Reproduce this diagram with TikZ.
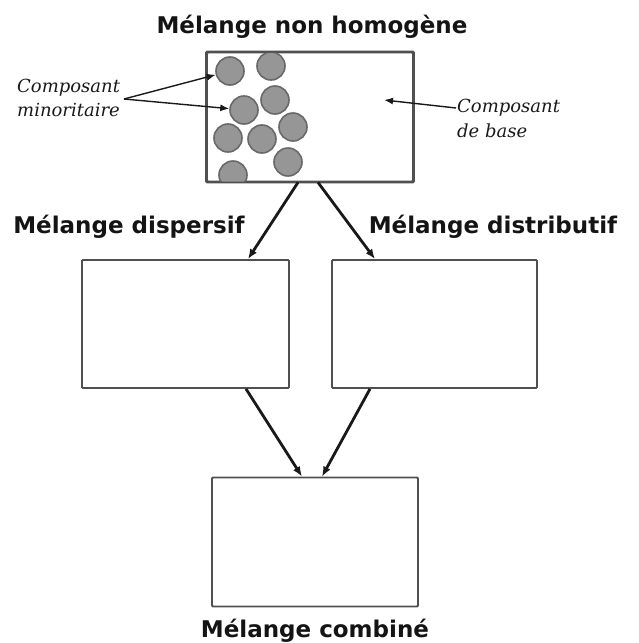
\documentclass[tikz,border=0pt]{standalone}
\usepackage{fontspec}
\newfontfamily\hdrfont{DejaVu Sans}
\newfontfamily\labfont{DejaVu Serif}
\usetikzlibrary{arrows.meta}
\definecolor{boxline}{RGB}{80,80,80}
\definecolor{ballfill}{RGB}{150,150,150}
\definecolor{ballline}{RGB}{105,105,105}
\definecolor{arrowc}{RGB}{25,25,25}
\tikzset{
  mixbox/.style={draw=boxline, line width=1.8pt, rounded corners=1pt, fill=white, minimum width=206pt, minimum height=129pt, inner sep=0pt},
  ball/.style={circle, draw=ballline, line width=1.6pt, fill=ballfill, minimum size=28pt, inner sep=0pt},
  hdr/.style={font=\hdrfont\bfseries\fontsize{23}{28}\selectfont, inner sep=0pt, anchor=base, text=black!92},
  lab/.style={font=\labfont\itshape\fontsize{18}{25}\selectfont, inner sep=0pt, anchor=base west, text=black!90},
  flow/.style={draw=arrowc, line width=2.8pt, -{Latex[length=10pt,width=8pt]}},
  point/.style={draw=arrowc, line width=1.4pt, -{Latex[length=9pt,width=7pt]}}
}
\begin{document}
\begin{tikzpicture}[x=1pt,y=-1pt]
\useasboundingbox (0,0) rectangle (639,643);
% titles
\node[hdr] (t0) at (312,33) {Mélange non homogène};
\node[hdr] (t1) at (129,233) {Mélange dispersif};
\node[hdr] (t2) at (493,233) {Mélange distributif};
\node[hdr] (t3) at (315,637) {Mélange combiné};
% boxes
\node[mixbox] (top) at (310,117) {};
\node[mixbox, minimum width=207pt, minimum height=128pt] (L) at (185.5,324) {};
\node[mixbox, minimum width=205pt, minimum height=128pt] (R) at (434.5,324) {};
\node[mixbox] (B) at (315,542) {};
% particles
\begin{scope}
\clip (207,52) rectangle (413,182);
\node[ball] (c1) at (230,71) {};
\node[ball] (c2) at (271,66) {};
\node[ball] (c3) at (275,100) {};
\node[ball] (c4) at (244,110) {};
\node[ball] (c5) at (293,127) {};
\node[ball] (c6) at (228,138) {};
\node[ball] (c7) at (262,139) {};
\node[ball] (c8) at (288,162) {};
\node[ball] (c9) at (233,175) {};
\end{scope}
\draw[draw=boxline, line width=1.8pt, rounded corners=1pt] (top.north west) rectangle (top.south east);
% labels
\node[lab] (m1) at (17,92) {Composant};
\node[lab] (m2) at (17,116) {minoritaire};
\node[lab] (b1) at (457,112) {Composant};
\node[lab] (b2) at (457,137) {de base};
\coordinate (v) at (124,99);
\coordinate (bt) at (456,108);
\coordinate (bp) at (384,100);
\draw[point] (v) -- (c1);
\draw[point] (v) -- (c4);
\draw[point] (bt) -- (bp);
% flows
\draw[flow] ([xshift=-12pt]top.south) -- ([xshift=62.5pt]L.north);
\draw[flow] ([xshift=8pt]top.south) -- ([xshift=-59.5pt]R.north);
\draw[flow] ([xshift=60.5pt]L.south) -- ([xshift=-13pt]B.north);
\draw[flow] ([xshift=-64.5pt]R.south) -- ([xshift=7pt]B.north);
\end{tikzpicture}
\end{document}
